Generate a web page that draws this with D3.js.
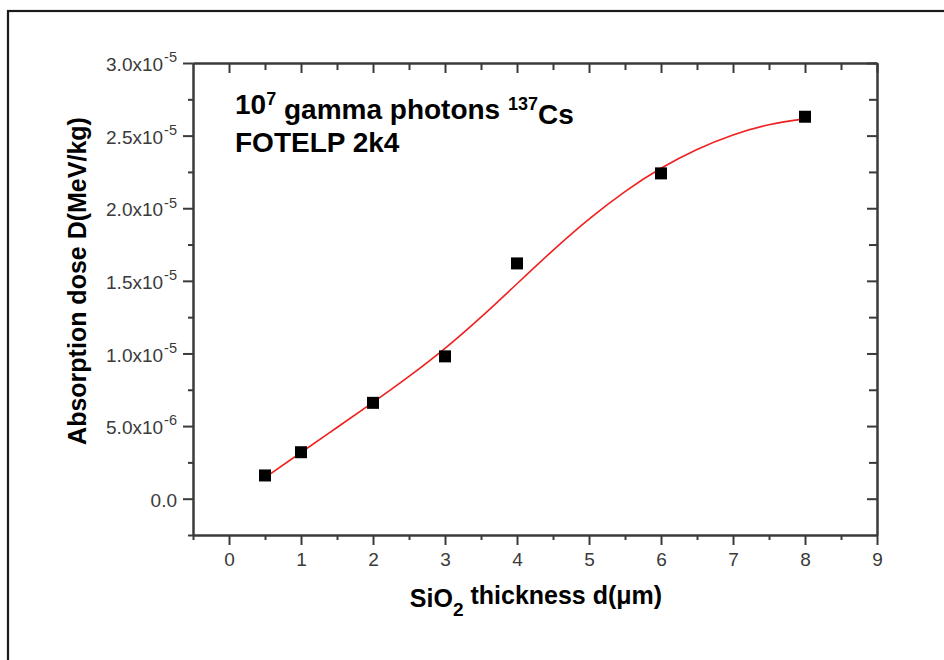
<!DOCTYPE html>
<html><head><meta charset="utf-8">
<script src="https://cdn.jsdelivr.net/npm/d3@7"></script>
<style>body{margin:0;background:#fff} svg{display:block}</style>
</head><body><svg id="c" width="944" height="660"></svg>
<script>
// Data points (SiO2 thickness in µm, absorption dose in MeV/kg)
const thickness = [0.5, 1, 2, 3, 4, 6, 8];
const dose = [1.6e-6, 3.2e-6, 6.6e-6, 9.8e-6, 1.62e-5, 2.24e-5, 2.63e-5];
// Fitted curve
const fitX = [0.5, 1, 1.5, 2, 2.5, 3, 3.5, 4, 4.5, 5, 5.5, 6, 6.5, 7, 7.5, 8];
const fitY = [1.45e-6, 3.18e-6, 4.90e-6, 6.63e-6, 8.42e-6, 1.035e-5, 1.25e-5, 1.48e-5,
              1.71e-5, 1.925e-5, 2.115e-5, 2.275e-5, 2.405e-5, 2.505e-5, 2.575e-5, 2.615e-5];
// Ticks
const xTicks = [0, 1, 2, 3, 4, 5, 6, 7, 8, 9];
const xMinorTicks = [-0.5, 0.5, 1.5, 2.5, 3.5, 4.5, 5.5, 6.5, 7.5, 8.5];
const yTicks = [0, 5e-6, 1e-5, 1.5e-5, 2e-5, 2.5e-5, 3e-5];
const yMinorTicks = [-2.5e-6, 2.5e-6, 7.5e-6, 1.25e-5, 1.75e-5, 2.25e-5, 2.75e-5];
const yTickMantissa = ["0.0", "5.0x10", "1.0x10", "1.5x10", "2.0x10", "2.5x10", "3.0x10"];
const yTickExponent = ["", "-6", "-5", "-5", "-5", "-5", "-5"];

const svg = d3.select("#c");
const L = 193, R = 877, T = 63, B = 535;
const x = d3.scaleLinear([-0.5, 9], [L, R]);
const y = d3.scaleLinear([-2.5e-6, 3e-5], [B, T]);
const axisColor = "#3a3a3a";
const font = "'Liberation Sans', Arial, sans-serif";

// outer frame
svg.append("rect").attr("x", 8).attr("y", 11).attr("width", 960).attr("height", 700)
  .attr("fill", "none").attr("stroke", "#1a1a1a").attr("stroke-width", 2.2);

function styleAxis(g) {
  g.attr("font-size", 19).attr("font-family", font);
  g.selectAll("path").attr("stroke", axisColor).attr("stroke-width", 2);
  g.selectAll("line").attr("stroke", axisColor).attr("stroke-width", 2);
  g.selectAll("text").attr("font-family", font).attr("font-size", 19).attr("fill", "#3a3a3a");
}

// bottom axis
const gB = svg.append("g").attr("transform", `translate(0,${B})`)
  .call(d3.axisBottom(x).tickValues(xTicks).tickSize(10).tickSizeOuter(0).tickPadding(8).tickFormat(d3.format("d")));
styleAxis(gB);
const gBm = svg.append("g").attr("transform", `translate(0,${B})`)
  .call(d3.axisBottom(x).tickValues(xMinorTicks).tickSize(5).tickSizeOuter(0).tickFormat(""));
styleAxis(gBm);
// top axis (inward ticks)
const gT = svg.append("g").attr("transform", `translate(0,${T})`)
  .call(d3.axisTop(x).tickValues(xTicks).tickSize(-10).tickSizeOuter(0).tickFormat(""));
styleAxis(gT);
const gTm = svg.append("g").attr("transform", `translate(0,${T})`)
  .call(d3.axisTop(x).tickValues(xMinorTicks.filter(d => d > -0.5)).tickSize(-7).tickSizeOuter(0).tickFormat(""));
styleAxis(gTm);

// left axis
const gL = svg.append("g").attr("transform", `translate(${L},0)`)
  .call(d3.axisLeft(y).tickValues(yTicks).tickSize(10).tickSizeOuter(0).tickPadding(6).tickFormat(""));
styleAxis(gL);
gL.selectAll(".tick text").each(function(d, i) {
  const t = d3.select(this).attr("dy", "0.4em");
  t.append("tspan").text(yTickMantissa[i]);
  if (yTickExponent[i]) {
    t.append("tspan").attr("font-size", 14.5).attr("dx", 1).attr("dy", "-0.6em").text(yTickExponent[i]);
  }
});
const gLm = svg.append("g").attr("transform", `translate(${L},0)`)
  .call(d3.axisLeft(y).tickValues(yMinorTicks).tickSize(5).tickSizeOuter(0).tickFormat(""));
styleAxis(gLm);
// right axis (inward ticks)
const gR = svg.append("g").attr("transform", `translate(${R},0)`)
  .call(d3.axisRight(y).tickValues(yTicks).tickSize(-10).tickSizeOuter(0).tickFormat(""));
styleAxis(gR);
const gRm = svg.append("g").attr("transform", `translate(${R},0)`)
  .call(d3.axisRight(y).tickValues(yMinorTicks.filter(d => d > -2.5e-6)).tickSize(-8).tickSizeOuter(0).tickFormat(""));
styleAxis(gRm);

// fit curve
const fit = fitX.map((d, i) => [d, fitY[i]]);
svg.append("path").datum(fit)
  .attr("fill", "none").attr("stroke", "#f02020").attr("stroke-width", 1.6)
  .attr("d", d3.line().x(d => x(d[0])).y(d => y(d[1])).curve(d3.curveNatural));

// data squares
const s = 12;
svg.append("g").selectAll("rect").data(thickness).join("rect")
  .attr("x", (d) => x(d) - s / 2)
  .attr("y", (d, i) => y(dose[i]) - s / 2)
  .attr("width", s).attr("height", s).attr("fill", "#000");

// annotation
const ann = svg.append("text").attr("x", 235).attr("y", 114)
  .attr("font-family", font).attr("font-size", 28).attr("font-weight", "bold").attr("fill", "#000");
ann.append("tspan").text("10");
ann.append("tspan").attr("font-size", 18).attr("dy", "-0.5em").text("7");
ann.append("tspan").attr("dy", "0.5em").text(" gamma photons ");
ann.append("tspan").attr("font-size", 18).attr("dy", "-0.5em").text("137");
ann.append("tspan").attr("dy", "0.5em").text("Cs");
svg.append("text").attr("x", 235).attr("y", 152)
  .attr("font-family", font).attr("font-size", 28).attr("font-weight", "bold").attr("fill", "#000")
  .text("FOTELP 2k4");

// x title
const xt = svg.append("text").attr("x", 536).attr("y", 607).attr("text-anchor", "middle")
  .attr("font-family", font).attr("font-size", 25).attr("font-weight", "bold").attr("fill", "#000");
xt.append("tspan").text("SiO");
xt.append("tspan").attr("font-size", 19).attr("dy", "0.45em").text("2");
xt.append("tspan").attr("dy", "-0.45em").text(" thickness d(\u03bcm)");

// y title
svg.append("text").attr("transform", "translate(86,281) rotate(-90)").attr("text-anchor", "middle")
  .attr("font-family", font).attr("font-size", 25).attr("font-weight", "bold").attr("fill", "#000")
  .text("Absorption dose D(MeV/kg)");
</script></body></html>
